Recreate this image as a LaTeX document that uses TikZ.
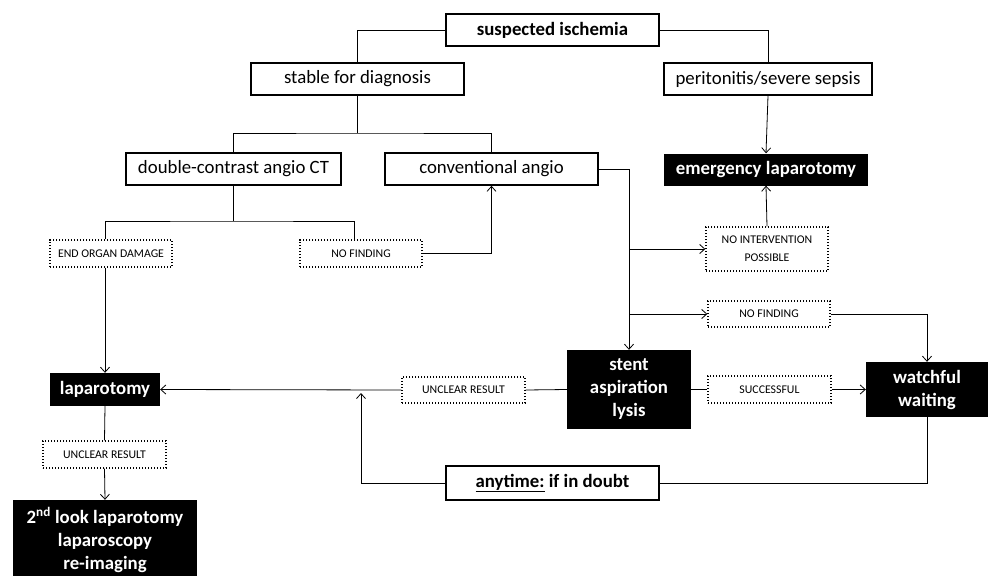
\documentclass[tikz,border=0pt]{standalone}
\usepackage{fontspec}
\setmainfont{Carlito}
\usetikzlibrary{arrows.meta}
\begin{document}
\begin{tikzpicture}[x=1pt,y=-1pt,
  box/.style={draw,line width=1.6pt,inner sep=0pt,minimum height=32pt,font=\fontsize{18.8}{23}\selectfont},
  blackbox/.style={fill=black,text=white,inner sep=0pt,align=center,font=\bfseries\fontsize{18.8}{23}\selectfont},
  dotbox/.style={draw,line width=1.4pt,dash pattern=on 1.4pt off 1.6pt,inner sep=0pt,minimum width=122pt,minimum height=27pt,align=center,font=\fontsize{11.8}{18}\selectfont},
  line/.style={line width=0.8pt,>={Straight Barb[length=5pt,width=9pt]}}]
\useasboundingbox (0,0) rectangle (989,576);

\node[box,minimum width=213pt,font=\bfseries\fontsize{18.8}{23}\selectfont] (susp) at (552.5,30) {suspected ischemia};
\node[box,minimum width=213pt] (stable) at (357.5,79) {stable for diagnosis};
\node[box,minimum width=208pt] (perit) at (768,79) {peritonitis/severe sepsis};

\node[box,minimum width=215pt] (dcct) at (233.5,169) {double-contrast angio CT};
\node[box,minimum width=213pt] (conv) at (491.5,169) {conventional angio};
\node[blackbox,minimum width=204pt,minimum height=32pt] (emerg) at (766,169.5) {emergency laparotomy};

\node[dotbox] (eod) at (111,253.5) {END ORGAN DAMAGE};
\node[dotbox] (nf1) at (361,253.5) {NO FINDING};
\node[dotbox,minimum height=44pt] (noint) at (767,249) {NO INTERVENTION\\POSSIBLE};
\node[dotbox,minimum height=26pt] (nf2) at (769,314) {NO FINDING};

\node[blackbox,minimum width=110pt,minimum height=33pt] (lap) at (105,389.5) {laparotomy};
\node[dotbox,minimum width=123pt,minimum height=26pt] (unc2) at (463.5,390) {UNCLEAR RESULT};
\node[blackbox,minimum width=124pt,minimum height=79pt] (stent) at (629,389.5) {stent\\aspiration\\lysis};
\node[dotbox,minimum width=123pt] (succ) at (769.5,389.5) {SUCCESSFUL};
\node[blackbox,minimum width=122pt,minimum height=55pt] (watch) at (927,389.5) {watchful\\waiting};

\node[dotbox,minimum width=123pt] (unc1) at (104.5,454.5) {UNCLEAR RESULT};
\node[blackbox,minimum width=184pt,minimum height=80pt] (second) at (105,540) {2\textsuperscript{nd} look laparotomy\\laparoscopy\\re-imaging};
\node[box,minimum width=213pt,minimum height=34pt,font=\bfseries\fontsize{18.8}{23}\selectfont] (anyt) at (552.5,483) {\underline{anytime:} if in doubt};

\coordinate (split1) at (357.5,133);
\coordinate (split2) at (233.5,221);
\coordinate (back) at (361,393);

\draw[line] (susp.west) -| (stable.north);
\draw[line] (susp.east) -| (perit.north);
\draw[line] (stable.south) -- (split1);
\draw[line] (dcct.north) |- (split1) -| (conv.north);
\draw[line,->] (perit.south) -- (emerg.north);

\draw[line] (dcct.south) -- (split2);
\draw[line] (eod.north -| lap.north) |- (split2) -| ([xshift=-7pt]nf1.north);
\draw[line,->] (nf1.east) -| (conv.south);
\draw[line,->] (eod.south -| lap.north) -- (lap.north);

\draw[line,->] (conv.east) -| (stent.north);
\draw[line,->] (stent.north |- noint.west) -- (noint.west);
\draw[line,->] (stent.north |- nf2.west) -- (nf2.west);
\draw[line,->] (noint.north) -- (emerg.south);
\draw[line,->] (nf2.east) -| (watch.north);

\draw[line] (stent.west) -- (unc2.east);
\draw[line,->] (unc2.west) -- (lap.east);
\draw[line] (stent.east) -- (succ.west);
\draw[line,->] (succ.east) -- (watch.west);

\draw[line] (watch.south) |- (anyt.east);
\draw[line,->] (anyt.west) -| (back);

\draw[line] (lap.south) -- (unc1.north);
\draw[line,->] (unc1.south) -- (second.north);
\end{tikzpicture}
\end{document}
